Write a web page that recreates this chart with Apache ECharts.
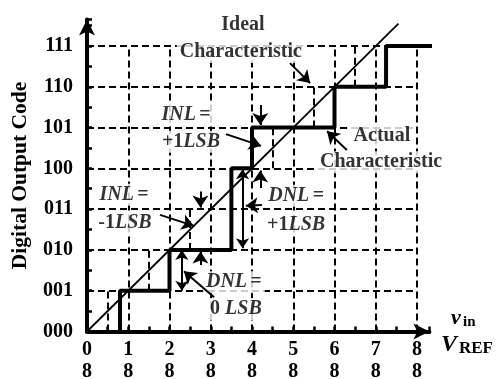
<!DOCTYPE html>
<html><head><meta charset="utf-8">
<script src="https://cdn.jsdelivr.net/npm/echarts@6/dist/echarts.min.js"></script>
<style>html,body{margin:0;padding:0;background:#fff}#c{width:499px;height:379px}</style>
</head><body><div id="c"></div>
<script>
// ---- data ----
const codeLabels = ['000','001','010','011','100','101','110','111'];
const xNumerators = [0,1,2,3,4,5,6,7,8];
const xDenominator = 8;
const actualX = [0.8,0.8,2,2,3.5,3.5,4,4,6,6,7.25,7.25,8.55];
const actualY = [0,1,1,2,2,4,4,5,5,6,6,7,7];
const idealX = [0, 7.55];
const idealY = [0, 7.55];
const gridXs = [1,2,3,4,5,6,7,8];
const gridYs = [1,2,3,4,5,6,7];
const idealRiseX = [0.5,1.5,2.5,3.5,4.5,5.5,6.5];
const idealRiseFrom = [0,1,2,3,4,5,6];

// ---- layout ----
const ox = 87, oy = 331.5, pxX = 41.25, pxY = 40.79;
const xMax = 8.3, yMax = 7.65;
const F = 'Liberation Serif';
const rich = {
  b: {fontFamily: F, fontWeight: 'bold', fontSize: 20, color: '#000'},
  i: {fontFamily: F, fontWeight: 'bold', fontStyle: 'italic', fontSize: 20, color: '#000'}
};

// annotations (text, anchor in data units)
const annotations = [
  {t: '{b|Ideal}', at: [3.78, 7.51]},
  {t: '{b|Characteristic}', at: [3.73, 6.85]},
  {t: '{i|INL} {b|=}', at: [2.40, 5.32]},
  {t: '{b|+1}{i|LSB}', at: [2.52, 4.65]},
  {t: '{b|Actual}', at: [7.15, 4.79]},
  {t: '{b|Characteristic}', at: [7.13, 4.15]},
  {t: '{i|INL} {b|=}', at: [0.90, 3.35]},
  {t: '{b|-1}{i|LSB}', at: [0.92, 2.66]},
  {t: '{i|DNL} {b|=}', at: [5.07, 3.33]},
  {t: '{b|+1}{i|LSB}', at: [5.07, 2.61]},
  {t: '{i|DNL} {b|=}', at: [3.56, 1.21]},
  {t: '{b|0 }{i|LSB}', at: [3.61, 0.55]}
];
const singleArrows = [
  [[4.92,6.58],[5.41,6.09]],
  [[6.30,4.45],[5.82,4.91]],
  [[3.37,4.84],[4.22,4.55]],
  [[4.2,5.55],[4.2,5.06]],
  [[4.2,3.52],[4.2,3.95]],
  [[1.77,2.86],[2.59,2.59]],
  [[2.75,3.43],[2.75,3.04]],
  [[2.75,1.63],[2.75,1.96]],
  [[3.08,0.84],[2.35,1.48]],
  [[4.24,3.10],[3.85,3.08]]
];
const doubleArrows = [
  [[2.3,1.0],[2.3,2.0]],
  [[3.77,2.04],[3.77,3.98]]
];

const dashed = [];
gridXs.forEach(x => dashed.push({coords: [[x,0],[x,gridYs[gridYs.length-1]]]}));
gridYs.forEach(y => dashed.push({coords: [[0,y],[gridXs[gridXs.length-1],y]]}));
idealRiseX.forEach((x,i) => dashed.push({coords: [[x,idealRiseFrom[i]],[x,idealRiseFrom[i]+1]]}));

const chart = echarts.init(document.getElementById('c'), null, {renderer: 'canvas'});
chart.setOption({
  animation: false,
  backgroundColor: '#fff',
  grid: {left: ox, top: oy - yMax*pxY, width: xMax*pxX, height: yMax*pxY, outerBoundsMode: 'none', containLabel: false},
  xAxis: {
    type: 'value', min: 0, max: xMax, interval: 1,
    axisLine: {show: true, lineStyle: {color: '#000', width: 4}, symbol: ['none','arrow'], symbolSize: [12,16]},
    axisTick: {show: true, inside: true, length: 5, lineStyle: {color: '#000', width: 2.5}},
    minorTick: {show: true, splitNumber: 2, length: 5, lineStyle: {color: '#000', width: 2.5}},
    splitLine: {show: false},
    axisLabel: {
      margin: 7, color: '#000', fontFamily: F, fontWeight: 'bold', fontSize: 20, lineHeight: 22,
      formatter: v => xNumerators.includes(v) ? v + '\n' + xDenominator : ''
    }
  },
  yAxis: {
    type: 'value', min: 0, max: yMax, interval: 1,
    name: 'Digital Output Code', nameLocation: 'middle', nameGap: 56, nameRotate: 90, nameMoveOverlap: false,
    nameTextStyle: {fontFamily: F, fontWeight: 'bold', fontSize: 21.5, color: '#000'},
    axisLine: {show: true, lineStyle: {color: '#000', width: 4}, symbol: ['none','arrow'], symbolSize: [12,16]},
    axisTick: {show: true, inside: true, length: 5, lineStyle: {color: '#000', width: 2.5}},
    minorTick: {show: true, splitNumber: 2, length: 5, lineStyle: {color: '#000', width: 2.5}},
    splitLine: {show: false},
    axisLabel: {
      margin: 14, color: '#000', fontFamily: F, fontWeight: 'bold', fontSize: 20,
      formatter: v => (Number.isInteger(v) && codeLabels[v] !== undefined) ? codeLabels[v] : ''
    }
  },
  graphic: [
    {type: 'text', left: 451, top: 307, z: 10, style: {text: 'v', font: 'italic bold 22px "Liberation Serif"', fill: '#000'}},
    {type: 'text', left: 463, top: 315, z: 10, style: {text: 'in', font: 'bold 15px "Liberation Serif"', fill: '#000'}},
    {type: 'text', left: 441, top: 333, z: 10, style: {text: 'V', font: 'italic bold 24px "Liberation Serif"', fill: '#000'}},
    {type: 'text', left: 459, top: 340, z: 10, style: {text: 'REF', font: 'bold 17px "Liberation Serif"', fill: '#000'}}
  ],
  series: [
    {
      type: 'lines', coordinateSystem: 'cartesian2d', z: 1, silent: true,
      lineStyle: {color: '#000', width: 2, type: [7,4], opacity: 1},
      data: dashed
    },
    {
      type: 'scatter', z: 3, symbolSize: 1, itemStyle: {color: 'rgba(0,0,0,0)'}, silent: true,
      label: {show: true, position: 'inside', align: 'center', verticalAlign: 'middle',
        backgroundColor: '#fff', padding: [1,3], rich: rich, formatter: p => p.data.t},
      data: annotations.map(a => ({value: a.at, t: a.t}))
    },
    {
      type: 'line', z: 4, symbol: 'none', clip: false, silent: true,
      lineStyle: {color: '#000', width: 4},
      data: actualX.map((x,i) => [x, actualY[i]])
    },
    {
      type: 'line', z: 4, symbol: 'none', clip: false, silent: true,
      lineStyle: {color: '#000', width: 1.8},
      data: idealX.map((x,i) => [x, idealY[i]])
    },
    {
      type: 'lines', coordinateSystem: 'cartesian2d', z: 5, silent: true,
      symbol: ['none','arrow'], symbolSize: 12,
      lineStyle: {color: '#000', width: 2, opacity: 1},
      data: singleArrows.map(c => ({coords: c}))
    },
    {
      type: 'lines', coordinateSystem: 'cartesian2d', z: 5, silent: true,
      symbol: ['arrow','arrow'], symbolSize: 10,
      lineStyle: {color: '#000', width: 2, opacity: 1},
      data: doubleArrows.map(c => ({coords: c}))
    }
  ]
});
</script></body></html>
